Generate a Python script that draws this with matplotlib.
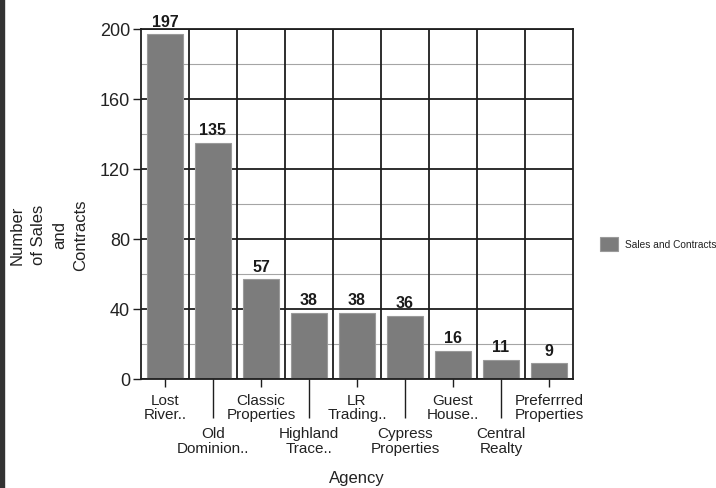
import matplotlib
matplotlib.use("Agg")
import matplotlib.pyplot as plt
from matplotlib.patches import Rectangle
import numpy as np

categories = ["Lost\nRiver..", "Old\nDominion..", "Classic\nProperties", "Highland\nTrace..",
              "LR\nTrading..", "Cypress\nProperties", "Guest\nHouse..", "Central\nRealty",
              "Preferrred\nProperties"]
values = [197, 135, 57, 38, 38, 36, 16, 11, 9]
y_ticks = [0, 40, 80, 120, 160, 200]
series_name = "Sales and Contracts"

plt.rcParams['font.family'] = ['Liberation Sans', 'DejaVu Sans']
W, H = 716, 489
fig = plt.figure(figsize=(W / 100, H / 100), dpi=100)
fig.patch.set_facecolor("white")

ax = fig.add_axes([141 / W, 1 - 380 / H, 432 / W, 350 / H])
x = np.arange(len(categories))
bars = ax.bar(x, values, width=0.75, color="#7c7c7c", edgecolor="#9a9a9a", linewidth=0.8,
              zorder=3, label=series_name)

ax.set_xlim(-0.5, len(categories) - 0.5)
ax.set_ylim(0, 200)

# grid
ax.set_yticks(y_ticks)
ax.set_yticks(np.arange(20, 200, 40), minor=True)
ax.yaxis.grid(True, which="major", color="#1e1e1e", linewidth=1.3, zorder=1)
ax.yaxis.grid(True, which="minor", color="#a5a5a5", linewidth=0.8, zorder=1)
for b in np.arange(0.5, len(categories) - 0.5, 1):
    ax.axvline(b, color="#1e1e1e", linewidth=1.3, zorder=1)
ax.set_axisbelow(True)

for s in ax.spines.values():
    s.set_color("#1e1e1e")
    s.set_linewidth(1.3)
    s.set_zorder(4)

ax.tick_params(axis="y", which="major", length=6, width=1, color="#1e1e1e",
               labelsize=13, labelcolor="#222222", pad=2)
ax.tick_params(axis="y", which="minor", length=0)

# staggered x labels
even = x[::2]
odd = x[1::2]
ax.set_xticks(even, [categories[i] for i in even])
ax.set_xticks(odd, [categories[i] for i in odd], minor=True)
ax.tick_params(axis="x", which="major", length=6, width=1, color="#1e1e1e",
               labelsize=11, labelcolor="#222222", pad=4)
ax.tick_params(axis="x", which="minor", length=28, width=1, color="#1e1e1e",
               labelsize=11, labelcolor="#222222", pad=6)
for lab in ax.get_xticklabels(which="both"):
    lab.set_linespacing(1.05)

for xi, v in zip(x, values):
    ax.annotate(str(v), (xi, v), xytext=(0, 4), textcoords="offset points",
                ha="center", va="bottom", fontsize=11.5, fontweight="bold", color="#1a1a1a")

ax.set_xlabel("Agency", fontsize=12, color="#222222")
ax.xaxis.set_label_coords(0.5, -0.26)
fig.text(49 / W, 1 - 235 / H, "Number\nof Sales\nand\nContracts", rotation=90,
         ha="center", va="center", multialignment="center", fontsize=12,
         linespacing=1.5, color="#222222")

leg = ax.legend(loc="center left", bbox_to_anchor=(600 / W, 1 - 245 / H),
                bbox_transform=fig.transFigure, frameon=False, fontsize=7.3,
                handlelength=1.75, handleheight=1.75, handletextpad=0.7, borderpad=0,
                borderaxespad=0)
for t in leg.get_texts():
    t.set_color("#222222")

fig.patches.append(Rectangle((0, 0), 4 / W, 1, transform=fig.transFigure,
                             color="#333333", zorder=10))

fig.savefig("out.png", dpi=100, facecolor="white")
